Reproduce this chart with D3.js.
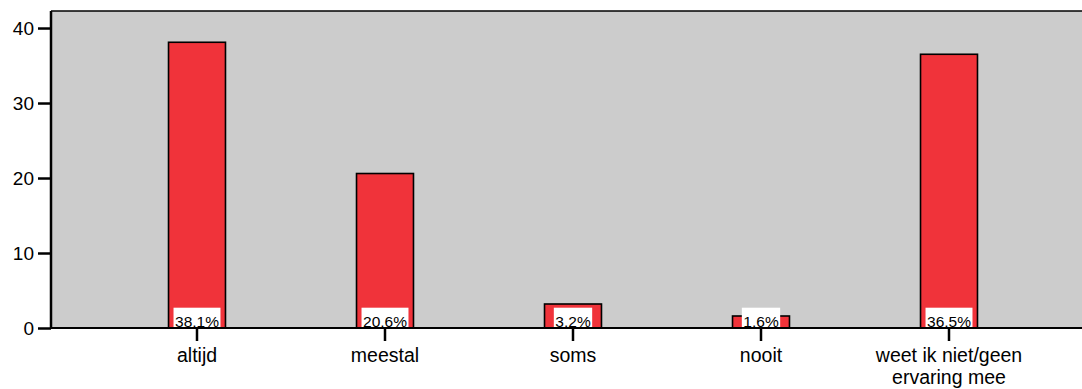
<!DOCTYPE html>
<html>
<head>
<meta charset="utf-8">
<script src="https://cdn.jsdelivr.net/npm/d3@7"></script>
<style>
  html, body { margin: 0; padding: 0; background: #fff; }
  svg { display: block; font-family: "Liberation Sans", Arial, Helvetica, sans-serif; }
</style>
</head>
<body>
<svg id="chart" width="1082" height="389"></svg>
<script>
// Answer categories and percentage of respondents per category
const categories = ["altijd", "meestal", "soms", "nooit", "weet ik niet/geen ervaring mee"];
const percentages = [38.1, 20.6, 3.2, 1.6, 36.5];
const yTicks = [0, 10, 20, 30, 40];

const svg = d3.select("#chart");
const plot = { left: 51, top: 11, right: 1082, bottom: 328 };
const FONT = "Liberation Sans, Arial, sans-serif";

const y = d3.scaleLinear().domain([0, 42.27]).range([plot.bottom, plot.top]);
const x = d3.scaleBand().domain(categories).range([103, 1043]).paddingInner(0.697).paddingOuter(0.3485);

// plot background
svg.append("rect")
  .attr("x", plot.left).attr("y", plot.top)
  .attr("width", plot.right - plot.left).attr("height", plot.bottom - plot.top)
  .attr("fill", "#cccccc");

// top frame line
svg.append("line")
  .attr("x1", plot.left).attr("x2", plot.right)
  .attr("y1", plot.top).attr("y2", plot.top)
  .attr("stroke", "#000").attr("stroke-width", 1.5);

// bars
svg.append("g").selectAll("rect")
  .data(categories)
  .join("rect")
  .attr("x", d => x(d))
  .attr("y", (d, i) => y(percentages[i]))
  .attr("width", x.bandwidth())
  .attr("height", (d, i) => y(0) - y(percentages[i]))
  .attr("fill", "#f0333a")
  .attr("stroke", "#000")
  .attr("stroke-width", 1.6);

// value labels on white boxes at the base of each bar
const fmt = v => d3.format(".1f")(v).replace(".", ",") + "%";
const labels = svg.append("g").selectAll("g")
  .data(categories)
  .join("g")
  .attr("transform", d => `translate(${x(d) + x.bandwidth() / 2},${plot.bottom})`);
const boxes = labels.append("rect")
  .attr("y", -20.3)
  .attr("height", 20.3)
  .attr("fill", "#fff");
const valueText = labels.append("text")
  .attr("y", -1.5)
  .attr("text-anchor", "middle")
  .attr("font-size", 15.5)
  .attr("font-family", FONT)
  .attr("fill", "#000")
  .text((d, i) => fmt(percentages[i]));
valueText.each(function(d, i) {
  const w = this.getComputedTextLength() + 3;
  d3.select(boxes.nodes()[i]).attr("x", -w / 2).attr("width", w);
});

// y axis
const yAxis = svg.append("g")
  .attr("transform", `translate(${plot.left},0)`)
  .call(d3.axisLeft(y).tickValues(yTicks).tickSize(13).tickPadding(4).tickFormat(d3.format("d")));
yAxis.select(".domain").attr("stroke", "#000").attr("stroke-width", 2.5)
  .attr("d", `M0,${plot.top}V${plot.bottom}`);
yAxis.selectAll(".tick line").attr("stroke-width", 2.5);
yAxis.selectAll(".tick text").attr("font-size", 19).attr("font-family", FONT).attr("fill", "#000");

// x axis
const xAxis = svg.append("g")
  .attr("transform", `translate(0,${plot.bottom})`)
  .call(d3.axisBottom(x).tickSize(13).tickPadding(7));
xAxis.select(".domain").attr("stroke", "#000").attr("stroke-width", 2)
  .attr("d", `M${plot.left},0H${plot.right}`);
xAxis.selectAll(".tick line").attr("stroke-width", 2.5);
xAxis.selectAll(".tick text")
  .attr("font-size", 19.5)
  .attr("font-family", FONT)
  .attr("fill", "#000")
  .each(function(d) {
    const t = d3.select(this);
    if (d === "weet ik niet/geen ervaring mee") {
      t.text(null);
      t.append("tspan").attr("x", 0).attr("dy", "0.71em").text("weet ik niet/geen");
      t.append("tspan").attr("x", 0).attr("dy", "1.13em").text("ervaring mee");
      t.attr("dy", null);
    }
  });
</script>
</body>
</html>
